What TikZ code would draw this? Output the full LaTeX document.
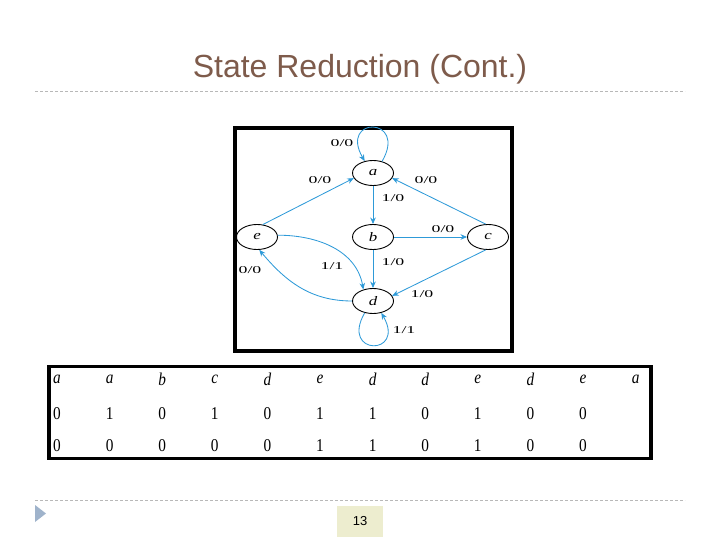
\documentclass[tikz,border=0pt]{standalone}
\usepackage{fontspec}
\setmainfont{Liberation Serif}
\setsansfont{Liberation Sans}
\usetikzlibrary{shapes.geometric,arrows.meta}
\definecolor{titlecolor}{HTML}{7E5B4B}
\definecolor{edgecolor}{HTML}{2E9AD8}
\definecolor{rulecolor}{HTML}{B8B8B8}
\definecolor{pagecolor}{HTML}{EDEDCF}
\definecolor{bulletcolor}{HTML}{9FB3CB}
\newcommand{\widetext}[2]{\scalebox{#1}[1]{#2}}

\tikzset{
  state/.style={ellipse,draw,line width=.9pt,minimum width=41,minimum height=25,inner sep=0pt,font=\fontsize{13}{13}\selectfont\itshape},
  arr/.style={edgecolor,line width=.85pt,-{Stealth[length=6.5pt,width=5.5pt]}},
  lbl/.style={font=\fontsize{10.5}{11}\selectfont,inner sep=1pt},
  cell/.style={font=\fontsize{18}{18}\selectfont,inner sep=0pt},
  slide rule/.style={rulecolor,dash pattern=on 3pt off 2pt,line width=.7pt}
}

\begin{document}
\begin{tikzpicture}[x=1pt,y=-1pt]
  \useasboundingbox (0,0) rectangle (720,540);
  % title and rules
  \node[titlecolor,anchor=base,inner sep=0pt,font=\sffamily\fontsize{32}{32}\selectfont] (title) at (360,78) {State Reduction (Cont.)};
  \coordinate (R1) at (35,91); \coordinate (R2) at (685,91);
  \draw[slide rule] (R1) -- (R2);
  \coordinate (F1) at (35,500); \coordinate (F2) at (685,500);
  \draw[slide rule] (F1) -- (F2);
  % state diagram
  \draw[line width=3.5pt] (235,128) rectangle (512,351);
  \node[state] (a) at (373,173) {\widetext{1.3}{a}};
  \node[state] (b) at (373,237) {\widetext{1.3}{b}};
  \node[state] (c) at (488,237) {\widetext{1.3}{c}};
  \node[state] (e) at (257,237) {\widetext{1.3}{e}};
  \node[state] (d) at (373,301) {\widetext{1.3}{d}};
  \draw[arr] (a.52) .. controls +(-60:52) and +(-120:52) .. (a.125);
  \draw[arr] (e.65) -- (a.195);
  \draw[arr] (c.100) -- (a.-15);
  \draw[arr] (a) -- (b);
  \draw[arr] (b) -- (c);
  \draw[arr] (b) -- (d);
  \draw[arr] (c.-100) -- (d.15);
  \draw[arr] (e.5) to[out=0,in=100] (d.130);
  \draw[arr] (d.180) to[out=180,in=-50] (e.-80);
  \draw[arr] (d.235) .. controls +(120:50) and +(60:50) .. (d.305);
  \node[lbl] (la) at (342,143) {\widetext{1.7}{0/0}};
  \node[lbl] (lea) at (320,180) {\widetext{1.7}{0/0}};
  \node[lbl] (lca) at (426,180) {\widetext{1.7}{0/0}};
  \node[lbl] (lab) at (393,198) {\widetext{1.7}{1/0}};
  \node[lbl] (lbc) at (443,229) {\widetext{1.7}{0/0}};
  \node[lbl] (lbd) at (393,262) {\widetext{1.7}{1/0}};
  \node[lbl] (led) at (332,266) {\widetext{1.7}{1/1}};
  \node[lbl] (lde) at (250,270) {\widetext{1.7}{0/0}};
  \node[lbl] (lcd) at (422,294) {\widetext{1.7}{1/0}};
  \node[lbl] (ld) at (404,330) {\widetext{1.7}{1/1}};
  % state sequence table
  \draw[line width=3.5pt] (49,366.5) rectangle (651,458.5);
  \foreach \s [count=\i] in {a,a,b,c,d,e,d,d,e,d,e,a}
    \node[cell,font=\fontsize{18}{18}\selectfont\itshape] (s\i) at ({57+52.6*(\i-1)},379) {\widetext{.85}{\s}};
  \foreach \x [count=\i] in {0,1,0,1,0,1,1,0,1,0,0}
    \node[cell] (x\i) at ({57+52.6*(\i-1)},414) {\widetext{.85}{\x}};
  \foreach \z [count=\i] in {0,0,0,0,0,1,1,0,1,0,0}
    \node[cell] (z\i) at ({57+52.6*(\i-1)},446) {\widetext{.85}{\z}};
  % footer
  \fill[bulletcolor] (35,505) -- (46,513.5) -- (35,522) -- cycle;
  \node[fill=pagecolor,minimum width=46,minimum height=31,inner sep=0pt,font=\sffamily\fontsize{13}{13}\selectfont] (page) at (360,521) {13};
\end{tikzpicture}
\end{document}
